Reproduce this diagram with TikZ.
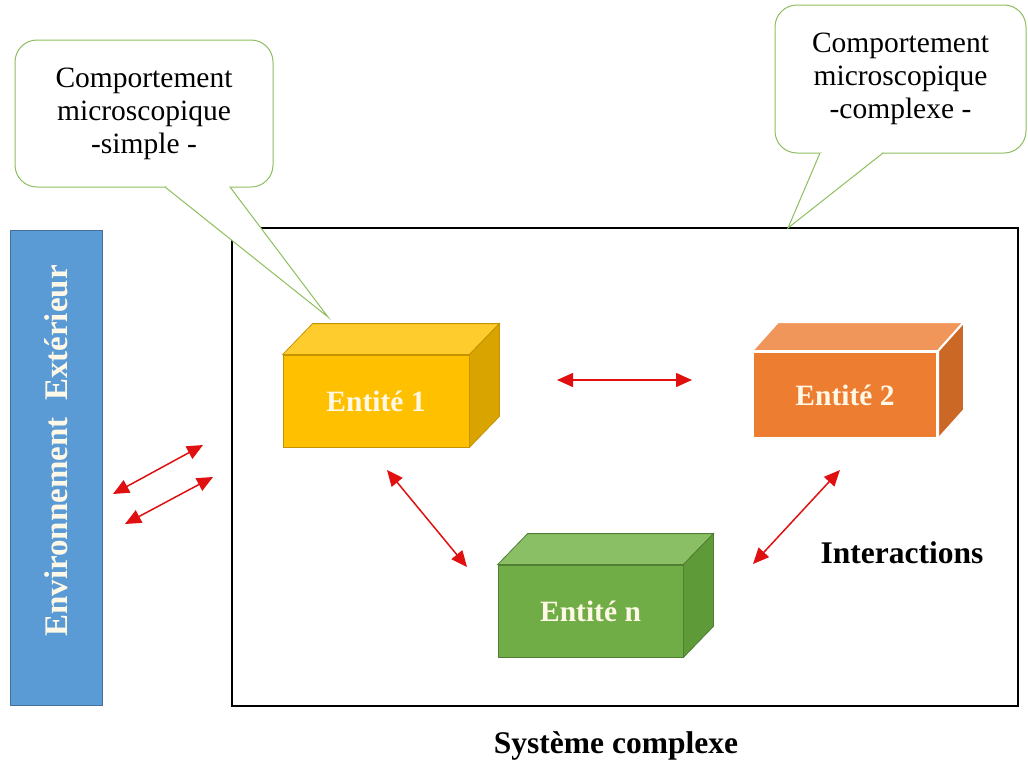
\documentclass[tikz,border=0pt]{standalone}
\usepackage{fontspec}
\setmainfont{Liberation Serif}
\usetikzlibrary{arrows.meta,calc}
\definecolor{envblue}{HTML}{5B9BD5}
\definecolor{envborder}{HTML}{41719C}
\definecolor{calloutgreen}{HTML}{8DBF5F}
\definecolor{yfront}{HTML}{FFC000}
\definecolor{ytop}{HTML}{FFCC2E}
\definecolor{yside}{HTML}{D9A300}
\definecolor{yborder}{HTML}{C49300}
\definecolor{ofront}{HTML}{ED7D31}
\definecolor{otop}{HTML}{F1965A}
\definecolor{oside}{HTML}{CC6825}
\definecolor{gfront}{HTML}{70AD47}
\definecolor{gtop}{HTML}{8BBF66}
\definecolor{gside}{HTML}{5E9A37}
\definecolor{gborder}{HTML}{507E32}
\definecolor{arrowred}{HTML}{E01010}
\definecolor{labelwhite}{HTML}{FFF8E6}
\begin{document}
\begin{tikzpicture}[x=1pt,y=-1pt,
  calloutbox/.style={draw=calloutgreen, line width=1pt, fill=white, rounded corners=22pt,
    align=center, inner sep=0pt, font=\fontsize{29.5}{33}\selectfont},
  frontface/.style={inner sep=0pt, font=\bfseries\fontsize{29.5}{32}\selectfont, text=labelwhite},
  redarrow/.style={draw=arrowred, line width=1.5pt, {Triangle[length=16pt,width=14pt]}-{Triangle[length=16pt,width=14pt]}},
  boldlabel/.style={font=\bfseries\fontsize{31.5}{35}\selectfont}
]
\useasboundingbox (0,0) rectangle (1028,774);

% main system frame
\node[draw=black, line width=1.5pt, minimum width=786pt, minimum height=478pt, inner sep=0pt] (sys) at (625,467) {};

% environment bar
\node[draw=envborder, line width=1pt, fill=envblue, minimum width=92pt, minimum height=475pt, inner sep=0pt] (env) at (56,467.5) {};
\node[rotate=90, text=labelwhite, font=\bfseries\fontsize{33}{36}\selectfont] (envtext) at (56,451) {Environnement\ \ Extérieur};

% callout 1
\node[calloutbox, minimum width=258pt, minimum height=147pt] (c1) at (144,113.5) {Comportement\\microscopique\\-simple -};
\coordinate (p1a) at (165,187);
\coordinate (p1b) at (230,187);
\coordinate (p1tip) at (328,317);
\fill[white] (p1a) -- (p1tip) -- (p1b) -- cycle;
\fill[white] ($(p1a)+(1.5,-1.5)$) rectangle ($(p1b)+(-1.5,1.5)$);
\draw[calloutgreen, line width=1pt, line join=miter] (p1a) -- (p1tip) -- (p1b);

% callout 2
\node[calloutbox, minimum width=251pt, minimum height=148pt] (c2) at (900.5,79) {Comportement\\microscopique\\-complexe -};
\coordinate (p2a) at (820,153);
\coordinate (p2b) at (883,153);
\coordinate (p2tip) at (788,228);
\fill[white] (p2a) -- (p2tip) -- (p2b) -- cycle;
\fill[white] ($(p2a)+(1.5,-1.5)$) rectangle ($(p2b)+(-1.5,1.5)$);
\draw[calloutgreen, line width=1pt, line join=miter] (p2a) -- (p2tip) -- (p2b);

% Entite 1
\node[frontface, fill=yfront, draw=yborder, line width=0.8pt, minimum width=186pt, minimum height=92pt] (e1) at (376,401) {Entité 1};
\filldraw[fill=ytop, draw=yborder, line width=0.8pt] (e1.north west) -- ++(30,-31) -- ($(e1.north east)+(30,-31)$) -- (e1.north east) -- cycle;
\filldraw[fill=yside, draw=yborder, line width=0.8pt] (e1.north east) -- ++(30,-31) -- ($(e1.south east)+(30,-31)$) -- (e1.south east) -- cycle;

% Entite 2
\node[frontface, fill=ofront, draw=white, line width=2pt, minimum width=184pt, minimum height=86pt] (e2) at (845,395) {Entité 2};
\filldraw[fill=otop, draw=white, line width=2pt, line join=round] (e2.north west) -- ++(26,-29) -- ($(e2.north east)+(26,-29)$) -- (e2.north east) -- cycle;
\filldraw[fill=oside, draw=white, line width=2pt, line join=round] (e2.north east) -- ++(26,-29) -- ($(e2.south east)+(26,-29)$) -- (e2.south east) -- cycle;

% Entite n
\node[frontface, fill=gfront, draw=gborder, line width=0.8pt, minimum width=185pt, minimum height=92pt] (en) at (590.5,611) {Entité n};
\filldraw[fill=gtop, draw=gborder, line width=0.8pt] (en.north west) -- ++(30,-31) -- ($(en.north east)+(30,-31)$) -- (en.north east) -- cycle;
\filldraw[fill=gside, draw=gborder, line width=0.8pt] (en.north east) -- ++(30,-31) -- ($(en.south east)+(30,-31)$) -- (en.south east) -- cycle;

% labels
\node[boldlabel] (inter) at (902,553) {Interactions};
\node[boldlabel] (syslabel) at (616,746) {Système complexe};

% interaction arrows
\coordinate (a12s) at (557,380);
\coordinate (a12e) at (692,380);
\draw[redarrow] (a12s) -- (a12e);
\coordinate (a1ns) at (387,470);
\coordinate (a1ne) at (467,567);
\draw[redarrow] (a1ns) -- (a1ne);
\coordinate (a2ns) at (840,470);
\coordinate (a2ne) at (753,564);
\draw[redarrow] (a2ns) -- (a2ne);
\coordinate (aenv1s) at (113,494);
\coordinate (aenv1e) at (203,445);
\draw[redarrow] (aenv1s) -- (aenv1e);
\coordinate (aenv2s) at (125,524);
\coordinate (aenv2e) at (213,477);
\draw[redarrow] (aenv2s) -- (aenv2e);
\end{tikzpicture}
\end{document}
